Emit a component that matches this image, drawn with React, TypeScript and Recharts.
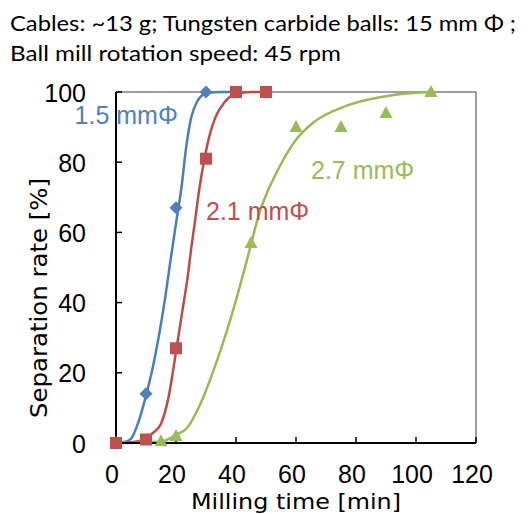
import {
  ComposedChart,
  Line,
  Scatter,
  XAxis,
  YAxis,
  ReferenceLine,
  ReferenceDot,
  Label,
} from "recharts";

// measured points (milling time [min] -> separation rate [%])
const time15 = [0, 10, 20, 30];
const rate15 = [0, 14, 67, 100];
const time21 = [0, 10, 20, 30, 40, 50];
const rate21 = [0, 1, 27, 81, 100, 100];
const time27 = [0, 15, 20, 45, 60, 75, 90, 105];
const rate27 = [0, 0.5, 2, 57, 90, 90, 94, 100];

// fitted curves
const fitTime15 = [0, 2.5, 5, 7.5, 10, 12.5, 15, 16.5, 18, 20, 22, 23.2, 25, 27, 30, 35, 40];
const fitRate15 = [0, 0.2, 1.2, 6, 13.5, 22.5, 34, 42, 51, 62.5, 74, 83, 92.5, 97.2, 99.6, 100, 100];
const fitTime21 = [0, 5, 10, 12.5, 15, 17.5, 20, 22, 24, 25, 26.3, 27.7, 29.5, 31.3, 33, 36.3, 40, 45, 50];
const fitRate21 = [0, 0.2, 1.3, 3, 5.5, 13, 26, 37, 48, 55, 63, 72, 81, 88, 92.5, 97.2, 99.5, 100, 100];
const fitTime27 = [0, 7.5, 15, 20, 23.6, 28, 32.4, 36.9, 40.2, 43.3, 48, 54.4, 60.2, 65.8, 76.9, 88, 99, 105];
const fitRate27 = [0, 0.1, 0.4, 2.3, 4.2, 10.9, 20.4, 31.8, 41.3, 51, 66, 78.5, 86.6, 91.3, 96.1, 98.5, 99.7, 100];

const xTicks = [0, 20, 40, 60, 80, 100, 120];
const yTicks = [0, 20, 40, 60, 80, 100];
const seriesNames = ["1.5 mmΦ", "2.1 mmΦ", "2.7 mmΦ"];
const titleLines = [
  "Cables: ~13 g; Tungsten carbide balls: 15 mm Φ ;",
  "Ball mill rotation speed: 45 rpm",
];

const toRows = (ts: number[], rs: number[]) => ts.map((t, i) => ({ t, r: rs[i] }));

const BLUE = "#4F81BD";
const RED = "#C0504D";
const GREEN = "#9BBB59";
const ARIAL = "'Liberation Sans', Arial, sans-serif";
const AXIS_FONT = "'DejaVu Sans', sans-serif";

const Diamond = (props: any) => {
  const { cx, cy } = props;
  const h = 6.5;
  return <path d={`M${cx},${cy - h}L${cx + h},${cy}L${cx},${cy + h}L${cx - h},${cy}Z`} fill={BLUE} />;
};
const Square = (props: any) => {
  const { cx, cy } = props;
  return <rect x={cx - 6} y={cy - 6} width={12} height={12} fill={RED} />;
};
const Triangle = (props: any) => {
  const { cx, cy } = props;
  return <path d={`M${cx},${cy - 7}L${cx + 6.5},${cy + 5}L${cx - 6.5},${cy + 5}Z`} fill={GREEN} />;
};

const XTick = ({ x, y, payload }: any) => (
  <text x={x - 4} y={y + 46} textAnchor="middle" fontFamily={ARIAL} fontSize={25} fill="#000">
    {payload.value}
  </text>
);
const YTick = ({ x, y, payload }: any) => (
  <text x={x - 36} y={y + 9.5} textAnchor="end" fontFamily={ARIAL} fontSize={25} fill="#000">
    {payload.value}
  </text>
);

const seriesLabel = (text: string, color: string) => (props: any) => (
  <text x={props.cx} y={props.cy} fontFamily={ARIAL} fontSize={25} fill={color}>
    {text}
  </text>
);

export default function App() {
  return (
    <div style={{ position: "absolute", left: 0, top: 0, width: 531, height: 514, background: "#fff" }}>
      <svg width={531} height={80} style={{ position: "absolute", left: 0, top: 0 }}>
        <text x={10} y={31} fontFamily="Lato, sans-serif" fontSize={22} fill="#000" textLength={506} lengthAdjust="spacingAndGlyphs">
          {titleLines[0]}
        </text>
        <text x={10} y={61} fontFamily="Lato, sans-serif" fontSize={22} fill="#000" textLength={331} lengthAdjust="spacingAndGlyphs">
          {titleLines[1]}
        </text>
      </svg>
      <div style={{ position: "absolute", left: 0, top: 0 }}>
        <ComposedChart width={531} height={514} margin={{ top: 92, right: 55, bottom: 0, left: 0 }}>
          <XAxis
            dataKey="t"
            type="number"
            domain={[0, 120]}
            ticks={xTicks}
            height={71}
            axisLine={{ stroke: "#000", strokeWidth: 2 }}
            tickLine={{ stroke: "#000", strokeWidth: 1.5 }}
            tickSize={-6}
            tickMargin={0}
            tick={<XTick />}
          >
            <Label
              content={({ viewBox }: any) => (
                <text
                  x={viewBox.x + viewBox.width / 2}
                  y={viewBox.y + 66}
                  textAnchor="middle"
                  fontFamily={AXIS_FONT}
                  fontSize={22}
                  fill="#000"
                  textLength={210}
                  lengthAdjust="spacingAndGlyphs"
                >
                  Milling time [min]
                </text>
              )}
            />
          </XAxis>
          <YAxis
            type="number"
            domain={[0, 100]}
            ticks={yTicks}
            width={116}
            axisLine={{ stroke: "#000", strokeWidth: 2 }}
            tickLine={{ stroke: "#000", strokeWidth: 1.5 }}
            tickSize={-6}
            tickMargin={0}
            tick={<YTick />}
          >
            <Label
              content={({ viewBox }: any) => {
                const cy = viewBox.y + viewBox.height / 2 + 30.5;
                return (
                  <text
                    x={47}
                    y={cy}
                    transform={`rotate(-90 47 ${cy})`}
                    textAnchor="middle"
                    fontFamily={AXIS_FONT}
                    fontSize={23}
                    fill="#000"
                    textLength={240}
                    lengthAdjust="spacingAndGlyphs"
                  >
                    Separation rate [%]
                  </text>
                );
              }}
            />
          </YAxis>
          <ReferenceLine y={100} stroke="#404040" strokeWidth={1} />
          <ReferenceLine x={120} stroke="#404040" strokeWidth={1} />

          <Line data={toRows(fitTime15, fitRate15)} dataKey="r" type="monotone" stroke="#4A7EBB" strokeWidth={2.5} dot={false} isAnimationActive={false} />
          <Line data={toRows(fitTime21, fitRate21)} dataKey="r" type="monotone" stroke="#BE4B48" strokeWidth={2.5} dot={false} isAnimationActive={false} />
          <Line data={toRows(fitTime27, fitRate27)} dataKey="r" type="monotone" stroke="#98B954" strokeWidth={2.5} dot={false} isAnimationActive={false} />

          <Scatter data={toRows(time27, rate27)} dataKey="r" shape={<Triangle />} isAnimationActive={false} />
          <Scatter data={toRows(time15, rate15)} dataKey="r" shape={<Diamond />} isAnimationActive={false} />
          <Scatter data={toRows(time21, rate21)} dataKey="r" shape={<Square />} isAnimationActive={false} />

          <ReferenceDot x={-13.8} y={90.9} ifOverflow="visible" shape={seriesLabel(seriesNames[0], BLUE)} />
          <ReferenceDot x={30} y={63.5} ifOverflow="visible" shape={seriesLabel(seriesNames[1], RED)} />
          <ReferenceDot x={65} y={75.3} ifOverflow="visible" shape={seriesLabel(seriesNames[2], GREEN)} />
        </ComposedChart>
      </div>
    </div>
  );
}
